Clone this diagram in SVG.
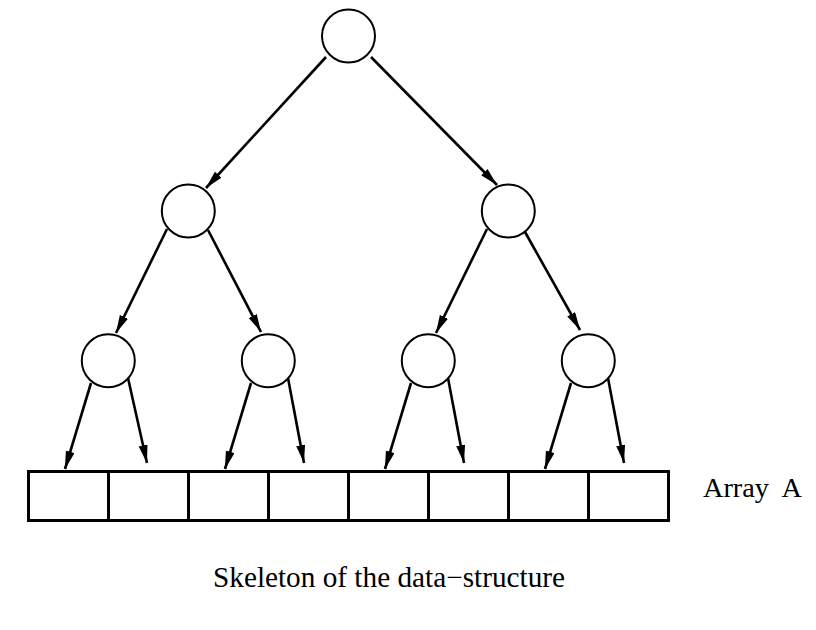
<svg xmlns="http://www.w3.org/2000/svg" width="816" height="630" viewBox="0 0 816 630">
<style>
.node{fill:#fff;stroke:#000;stroke-width:2}
.edge{stroke:#000;stroke-width:2.6;fill:none}
.cell{fill:#fff;stroke:#000;stroke-width:3}
.lbl{font-family:"Liberation Serif",serif;fill:#000}
</style>
<defs>
<marker id="ah" markerUnits="userSpaceOnUse" markerWidth="20" markerHeight="10" refX="18" refY="4.5" orient="auto">
<path d="M0,0 L18,4.5 L0,9 Z" fill="#000"/>
</marker>
</defs>
<rect width="816" height="630" fill="#fff"/>
<g id="connectors">
<line class="edge" x1="326" y1="57" x2="206" y2="188" marker-end="url(#ah)"/>
<line class="edge" x1="371" y1="57" x2="497" y2="185" marker-end="url(#ah)"/>
<line class="edge" x1="167" y1="229" x2="116" y2="333" marker-end="url(#ah)"/>
<line class="edge" x1="208" y1="230" x2="261" y2="332" marker-end="url(#ah)"/>
<line class="edge" x1="487" y1="229" x2="436" y2="333" marker-end="url(#ah)"/>
<line class="edge" x1="525" y1="232" x2="580" y2="330" marker-end="url(#ah)"/>
<line class="edge" x1="91" y1="383" x2="65" y2="469" marker-end="url(#ah)"/>
<line class="edge" x1="128" y1="378" x2="147" y2="463" marker-end="url(#ah)"/>
<line class="edge" x1="251" y1="383" x2="225" y2="469" marker-end="url(#ah)"/>
<line class="edge" x1="288" y1="378" x2="304" y2="463" marker-end="url(#ah)"/>
<line class="edge" x1="411" y1="383" x2="385" y2="469" marker-end="url(#ah)"/>
<line class="edge" x1="448" y1="378" x2="464" y2="463" marker-end="url(#ah)"/>
<line class="edge" x1="571" y1="383" x2="545" y2="469" marker-end="url(#ah)"/>
<line class="edge" x1="608" y1="378" x2="624" y2="463" marker-end="url(#ah)"/>
</g>
<g id="n-root"><circle class="node" cx="348.5" cy="36" r="26.5"/></g>
<g id="n-l"><circle class="node" cx="188.3" cy="211" r="26.5"/></g>
<g id="n-r"><circle class="node" cx="508.3" cy="211" r="26.5"/></g>
<g id="n-ll"><circle class="node" cx="108.3" cy="360.8" r="26.5"/></g>
<g id="n-lr"><circle class="node" cx="268.3" cy="360.8" r="26.5"/></g>
<g id="n-rl"><circle class="node" cx="428.3" cy="360.8" r="26.5"/></g>
<g id="n-rr"><circle class="node" cx="588.3" cy="360.8" r="26.5"/></g>
<g id="array">
<rect class="cell" x="28.5" y="471.5" width="80" height="49"/>
<rect class="cell" x="108.5" y="471.5" width="80" height="49"/>
<rect class="cell" x="188.5" y="471.5" width="80" height="49"/>
<rect class="cell" x="268.5" y="471.5" width="80" height="49"/>
<rect class="cell" x="348.5" y="471.5" width="80" height="49"/>
<rect class="cell" x="428.5" y="471.5" width="80" height="49"/>
<rect class="cell" x="508.5" y="471.5" width="80" height="49"/>
<rect class="cell" x="588.5" y="471.5" width="80" height="49"/>
</g>
<text class="lbl" x="703" y="497" font-size="28" textLength="99" lengthAdjust="spacingAndGlyphs" xml:space="preserve">Array  A</text>
<text class="lbl" x="213" y="587" font-size="29" textLength="352" lengthAdjust="spacingAndGlyphs">Skeleton of the data−structure</text>
</svg>
